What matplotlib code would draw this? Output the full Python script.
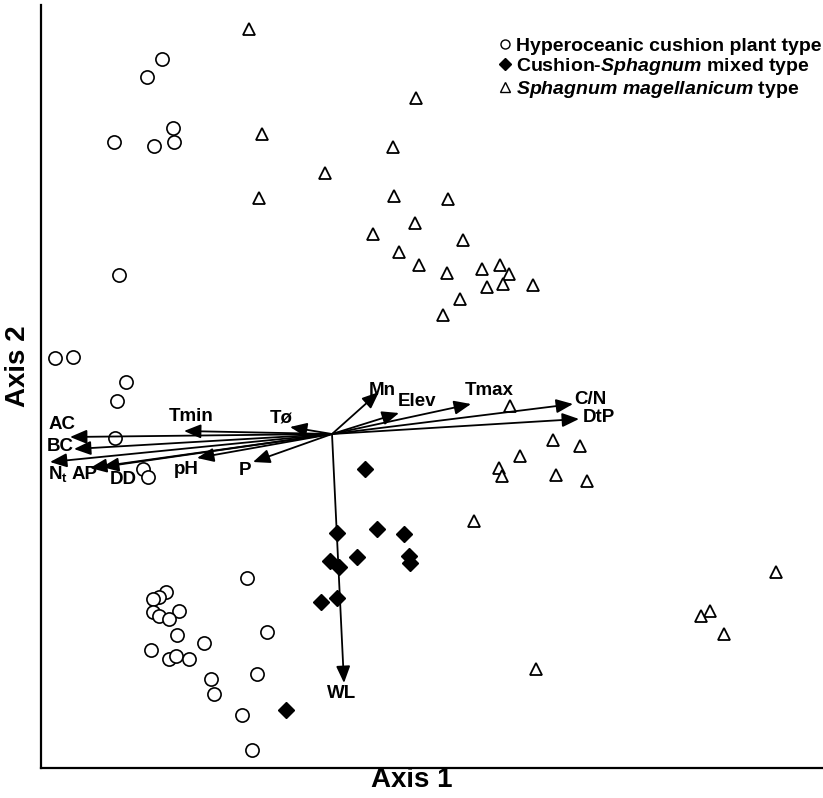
import matplotlib
matplotlib.use("Agg")
import matplotlib.pyplot as plt
from matplotlib.lines import Line2D

plt.rcParams['font.family'] = ['Liberation Sans', 'DejaVu Sans']
plt.rcParams['font.weight'] = 'bold'
plt.rcParams['mathtext.fontset'] = 'custom'
plt.rcParams['mathtext.rm'] = 'Liberation Sans:bold'
plt.rcParams['mathtext.it'] = 'Liberation Sans:italic:bold'
plt.rcParams['mathtext.bf'] = 'Liberation Sans:bold'

# --- site scores (Axis 1, Axis 2) ---
hyper_x = [-1.70, -1.85, -2.18, -1.78, -1.59, -1.58, -2.13, -2.77, -2.59, -2.06, -2.15, -2.17,
           -1.89, -1.84, -0.85, -1.66, -1.73, -1.79, -1.79, -1.73, -1.53, -1.63, -1.55, -1.28,
           -0.65, -1.81, -1.63, -1.56, -1.43, -0.75, -1.21, -1.18, -0.90, -0.80]
hyper_y = [3.75, 3.57, 2.92, 2.88, 3.06, 2.92, 1.59, 0.76, 0.77, 0.52, 0.33, -0.04,
           -0.35, -0.43, -1.44, -1.58, -1.63, -1.65, -1.78, -1.82, -1.77, -1.85, -2.01, -2.09,
           -1.98, -2.16, -2.25, -2.22, -2.25, -2.40, -2.45, -2.60, -2.81, -3.16]

mixed_x = [0.33, 0.05, 0.45, 0.72, -0.02, 0.07, 0.25, 0.77, 0.78, 0.05, -0.11, -0.46]
mixed_y = [-0.35, -0.99, -0.95, -1.00, -1.27, -1.33, -1.23, -1.22, -1.29, -1.64, -1.68, -2.76]

magel_x = [-0.83, -0.70, -0.73, 0.84, 0.61, -0.07, 0.62, 1.16, 0.83, 0.41, 1.31, 0.67,
           0.87, 1.15, 1.50, 1.68, 1.77, 1.55, 1.71, 2.01, 1.28, 1.11, 1.78, 2.21,
           2.48, 1.88, 1.67, 1.70, 2.24, 2.55, 1.42, 2.04, 4.44, 3.78, 3.69, 3.92]
magel_y = [4.05, 3.00, 2.36, 3.36, 2.87, 2.61, 2.38, 2.35, 2.11, 2.00, 1.94, 1.82,
           1.69, 1.61, 1.65, 1.69, 1.60, 1.47, 1.50, 1.49, 1.35, 1.19, 0.28, -0.06,
           -0.12, -0.22, -0.34, -0.42, -0.41, -0.47, -0.87, -2.35, -1.38, -1.77, -1.82, -2.00]

# --- environmental vectors ---
env_names = ['Mn', 'Elev', 'Tmax', 'C/N', 'DtP', 'Tø', 'Tmin', 'AC', 'BC',
             r'N$_{\mathrm{t}}$', 'AP', 'DD', 'pH', 'P', 'WL']
env_x = [0.47, 0.67, 1.39, 2.41, 2.47, -0.42, -1.48, -2.62, -2.58, -2.82, -2.42, -2.30, -1.35, -0.79, 0.12]
env_y = [0.42, 0.21, 0.30, 0.30, 0.15, 0.07, 0.03, -0.03, -0.15, -0.28, -0.34, -0.33, -0.24, -0.28, -2.49]
lab_x = [0.50, 0.85, 1.57, 2.58, 2.67, -0.51, -1.41, -2.70, -2.72, -2.74, -2.47, -2.09, -1.46, -0.87, 0.10]
lab_y = [0.43, 0.32, 0.43, 0.34, 0.16, 0.16, 0.17, 0.09, -0.13, -0.40, -0.41, -0.46, -0.36, -0.37, -2.60]

group_labels = ['Hyperoceanic cushion plant type',
                'Cushion-$Sphagnum$ mixed type',
                r'$Sphagnum\ magellanicum$ type']

W, H = 823, 798
fig = plt.figure(figsize=(W / 100, H / 100), dpi=100)
ax = fig.add_axes([41 / W, 1 - 768 / H, 1 - 41 / W, (768 - 5) / H])
ax.set_xlim(-2.91, 4.91)
ax.set_ylim(-3.34, 4.29)

ax.plot(hyper_x, hyper_y, 'o', ms=9.5, mfc='white', mec='black', mew=1.2, ls='none', zorder=3)
ax.plot(mixed_x, mixed_y, 'D', ms=8, mfc='black', mec='black', mew=1.0, ls='none', zorder=3)
ax.plot(magel_x, magel_y, '^', ms=9, mfc='white', mec='black', mew=1.3, ls='none', zorder=3)

for ex, ey, lx, ly, name in zip(env_x, env_y, lab_x, lab_y, env_names):
    ax.annotate('', xy=(ex, ey), xytext=(0, 0),
                arrowprops=dict(arrowstyle='-|>,head_length=0.6,head_width=0.25',
                                color='black', lw=1.3, mutation_scale=17,
                                shrinkA=0, shrinkB=0), zorder=4)
    ax.text(lx, ly, name, ha='center', va='center', fontsize=13.5, fontweight='bold', zorder=5)

for side in ['top', 'right']:
    ax.spines[side].set_visible(False)
for side in ['left', 'bottom']:
    ax.spines[side].set_linewidth(1.6)
ax.set_xticks([])
ax.set_yticks([])

handles = [Line2D([], [], marker='o', ls='none', ms=6.5, mfc='white', mec='black', mew=1.0),
           Line2D([], [], marker='D', ls='none', ms=6, mfc='black', mec='black'),
           Line2D([], [], marker='^', ls='none', ms=6.5, mfc='white', mec='black', mew=1.0)]
leg = fig.legend(handles, group_labels, loc='upper right',
                 bbox_to_anchor=(822 / W, 1 - 37 / H), frameon=False,
                 prop={'weight': 'bold', 'size': 14}, handlelength=0.6,
                 handletextpad=0.3, labelspacing=0.08, borderpad=0, borderaxespad=0)

fig.text(412 / W, 1 - 780 / H, 'Axis 1', ha='center', va='center', fontsize=20, fontweight='bold')
fig.text(18 / W, 1 - 366 / H, 'Axis 2', ha='center', va='center', fontsize=20,
         fontweight='bold', rotation=90)

fig.savefig('out.png', dpi=100)
